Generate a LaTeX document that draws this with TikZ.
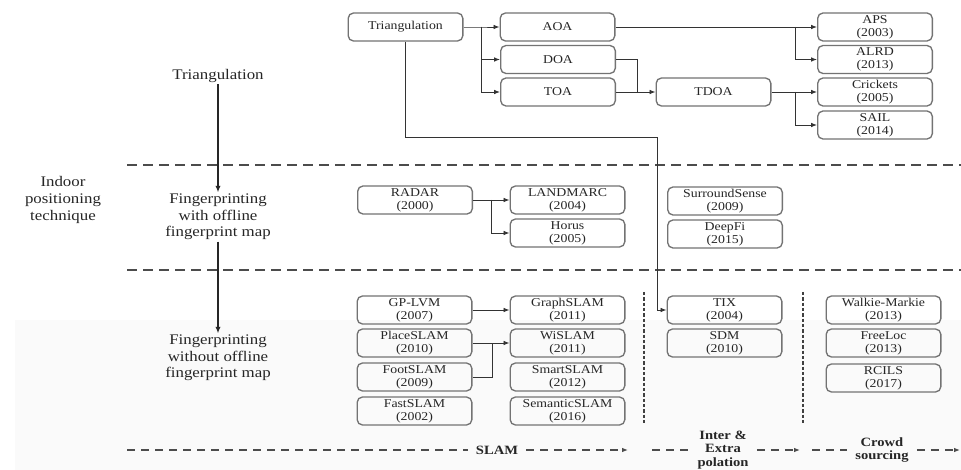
\documentclass[tikz,border=0pt]{standalone}
\usepackage{fontspec}
\setmainfont{Liberation Serif}[FakeStretch=1.15]
\usetikzlibrary{arrows.meta}

\begin{document}
\begin{tikzpicture}[x=0.75pt,y=-0.75pt,
  box/.style={draw=black!55, line width=1pt, rounded corners=4pt,
    minimum width=86pt, minimum height=21pt, inner sep=0pt, align=center,
    text=black!85, font=\fontsize{9}{9.75}\selectfont},
  conn/.style={draw=black!80, line width=0.7pt},
  arr/.style={conn, -{Latex[length=4.5pt,width=3.5pt]}},
  level/.style={align=center, text=black!85, font=\fontsize{11}{12.4}\selectfont, inner sep=1pt},
  stage/.style={align=center, text=black!85, font=\bfseries\fontsize{9.5}{10.3}\selectfont,
    inner ysep=2pt, inner xsep=6pt},
  sep/.style={draw=black!70, line width=1.3pt, dash pattern=on 7.5pt off 4.5pt},
  flow/.style={draw=black!70, line width=1.1pt, dash pattern=on 6pt off 4.5pt},
  flowarr/.style={flow, -{Latex[length=4.5pt,width=3.5pt]}},
  col/.style={draw=black!75, line width=1.6pt, dash pattern=on 2.4pt off 1.6pt},
  down/.style={draw=black!85, line width=1.4pt, -{Latex[length=5pt,width=4pt]}}
]
% canvas
\useasboundingbox (0,0) rectangle (961,470);
\fill[white] (0,0) rectangle (961,470);
\fill[black!2] (15,320) rectangle (961,470);

% level separators
\draw[sep] (127,165) -- (961,165);
\draw[sep] (127,270) -- (961,270);

% left column: levels of the technique
\node[level] (indoor) at (63,200) {Indoor\\positioning\\technique};
\node[level] (lt)  at (218,76)  {Triangulation};
\node[level] (lfo) at (218,217) {Fingerprinting\\with offline\\fingerprint map};
\node[level] (lfw) at (218,358) {Fingerprinting\\without offline\\fingerprint map};
\draw[down] (lt.south) -- (lfo.north);
\draw[down] (lfo.south) -- (lfw.north);

% triangulation family
\node[box] (tri)  at (405.5,27) {Triangulation};
\node[box] (aoa)  at (557.5,27) {AOA};
\node[box] (doa)  at (558,59.5) {DOA};
\node[box] (toa)  at (558,92)   {TOA};
\node[box] (tdoa) at (713.5,92) {TDOA};
\node[box] (aps)  at (875,27)   {APS\\(2003)};
\node[box] (alrd) at (875,59.5) {ALRD\\(2013)};
\node[box] (crk)  at (875,92)   {Crickets\\(2005)};
\node[box] (sail) at (875,125)  {SAIL\\(2014)};

\coordinate (j1) at (481,27);
\draw[arr] (tri.east) -- (j1) -- (aoa.west);
\draw[arr] (j1) |- (doa.west);
\draw[arr] (j1) |- (toa.west);

\coordinate (j2) at (795,27);
\draw[arr] (aoa.east) -- (aps.west);
\draw[arr] (j2) |- (alrd.west);

\coordinate (j3) at (637,92);
\draw[conn] (doa.east) -| (j3);
\draw[arr] (toa.east) -- (tdoa.west);

\coordinate (j4) at (795,92);
\draw[arr] (tdoa.east) -- (crk.west);
\draw[arr] (j4) |- (sail.west);

% fingerprinting with offline map
\node[box] (radar)    at (415,200)   {RADAR\\(2000)};
\node[box] (landmarc) at (567.5,200) {LANDMARC\\(2004)};
\node[box] (horus)    at (567.5,233) {Horus\\(2005)};
\node[box] (ss)       at (725,201)   {SurroundSense\\(2009)};
\node[box] (deepfi)   at (725,234)   {DeepFi\\(2015)};

\coordinate (j5) at (491,200);
\draw[arr] (radar.east) -- (landmarc.west);
\draw[arr] (j5) |- (horus.west);

% fingerprinting without offline map
\node[box] (gplvm)    at (414.5,310) {GP-LVM\\(2007)};
\node[box] (place)    at (414.5,343) {PlaceSLAM\\(2010)};
\node[box] (foot)     at (414.5,377) {FootSLAM\\(2009)};
\node[box] (fast)     at (414.5,411) {FastSLAM\\(2002)};
\node[box] (graph)    at (567.5,310) {GraphSLAM\\(2011)};
\node[box] (wislam)   at (567.5,343) {WiSLAM\\(2011)};
\node[box] (smart)    at (567.5,377) {SmartSLAM\\(2012)};
\node[box] (semantic) at (567.5,411) {SemanticSLAM\\(2016)};
\node[box] (tix)      at (724.5,310) {TIX\\(2004)};
\node[box] (sdm)      at (724.5,343) {SDM\\(2010)};
\node[box] (walkie)   at (883.5,310) {Walkie-Markie\\(2013)};
\node[box] (freeloc)  at (883.5,343) {FreeLoc\\(2013)};
\node[box] (rcils)    at (883.5,378) {RCILS\\(2017)};

\draw[arr] (gplvm.east) -- (graph.west);
\coordinate (j6) at (492,343);
\draw[arr] (place.east) -- (wislam.west);
\draw[conn] (foot.east) -| (j6);

% triangulation feeding TIX
\coordinate (b1) at (657,137);
\draw[arr] (tri.south) |- (b1) |- (tix.west);

% column separators
\draw[col] (644,292) -- (644,423);
\draw[col] (803,292) -- (803,423);

% bottom flow of approaches
\coordinate (s0) at (127,450);
\coordinate (s1) at (628,450);
\coordinate (s2) at (652,450);
\coordinate (s3) at (800,450);
\coordinate (s4) at (812,450);
\coordinate (s5) at (960,450);
\node[stage] (slam)  at (497,450) {SLAM};
\node[stage] (inter) at (723,450) {Inter \&\\Extra\\polation};
\node[stage] (crowd) at (882,450) {Crowd\\sourcing};
\draw[flow] (s0) -- (slam.west);
\draw[flowarr] (slam.east) -- (s1);
\draw[flow] (s2) -- (inter.west);
\draw[flowarr] (inter.east) -- (s3);
\draw[flow] (s4) -- (crowd.west);
\draw[flowarr] (crowd.east) -- (s5);
\end{tikzpicture}
\end{document}
